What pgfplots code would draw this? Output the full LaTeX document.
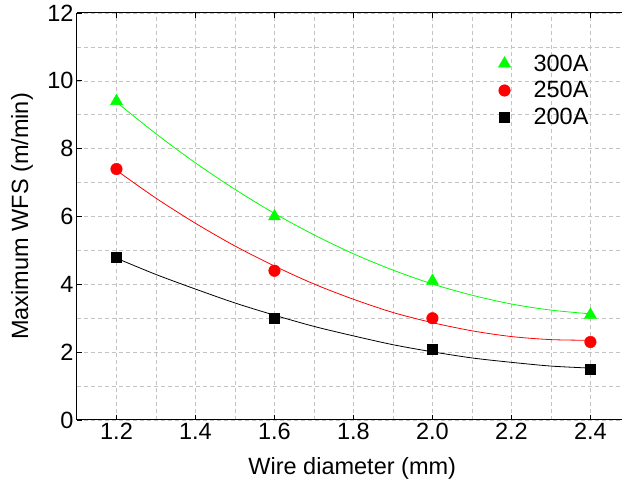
\documentclass[border=0pt]{standalone}
\usepackage{pgfplots}
\pgfplotsset{compat=1.18}
\usepackage{fontspec}
\setmainfont{Liberation Sans}
\definecolor{pgreen}{RGB}{0,255,0}
\definecolor{pred}{RGB}{255,0,0}
\definecolor{gridgray}{RGB}{195,195,195}
\newcommand{\bigfont}{\fontsize{23.5}{28}\selectfont}
\begin{document}
\begin{tikzpicture}
\useasboundingbox (-77pt,-72pt) rectangle (545pt,420pt);
\begin{axis}[
  scale only axis,
  width=545pt, height=407pt,
  xmin=1.1, xmax=2.48, ymin=0, ymax=12,
  axis x line=box, axis y line=left,
  y axis line style={-},
  axis line style={line width=1pt},
  tick align=inside,
  major tick length=5pt,
  minor tick length=0pt,
  tick style={black, line width=0.8pt},
  xtick={1.2,1.4,1.6,1.8,2.0,2.2,2.4},
  ytick={0,2,4,6,8,10,12},
  minor x tick num=1, minor y tick num=1,
  grid=both,
  grid style={gridgray, dashed, line width=0.6pt, dash pattern=on 4pt off 3pt},
  /pgf/number format/assume math mode=true,
  xticklabel style={/pgf/number format/fixed, /pgf/number format/fixed zerofill, /pgf/number format/precision=1},
  yticklabel style={/pgf/number format/fixed},
  every tick label/.append style={font=\bigfont},
  xlabel={Wire diameter (mm)},
  ylabel={Maximum WFS (m/min)},
  label style={font=\bigfont},
  xlabel style={at={(axis description cs:0.505,-0.118)}, anchor=center},
  ylabel style={at={(axis description cs:-0.101,0.5)}, anchor=center},
  legend style={draw=none, fill=none, font=\bigfont, at={(0.948,0.908)}, anchor=north east, row sep=5pt},
  legend cell align=left,
  legend image code/.code={\path[mark repeat=2,mark phase=2,#1] plot coordinates {(0cm,0cm) (0.2cm,0cm) (1.15cm,0cm)};},
]
% data points
\addplot[mark=triangle*, mark size=7pt, color=pgreen, draw=none, mark options={draw=pgreen, fill=pgreen}] coordinates {(1.2,9.4) (1.6,6.0) (2.0,4.1) (2.4,3.1)};
\addlegendentry{300A}
\addplot[mark=*, mark size=5.8pt, color=pred, draw=none, mark options={draw=pred, fill=pred}] coordinates {(1.2,7.4) (1.6,4.4) (2.0,3.0) (2.4,2.3)};
\addlegendentry{250A}
\addplot[mark=square*, mark size=5pt, color=black, draw=none, mark options={draw=black, fill=black}] coordinates {(1.2,4.8) (1.6,3.0) (2.0,2.1) (2.4,1.5)};
\addlegendentry{200A}
% fitted curves
\addplot[pgreen, line width=0.8pt, smooth, forget plot] coordinates {
(1.2,9.37) (1.3,8.44) (1.4,7.58) (1.5,6.80) (1.6,6.09) (1.7,5.46) (1.8,4.90)
(1.9,4.42) (2.0,4.01) (2.1,3.68) (2.2,3.42) (2.3,3.24) (2.4,3.13)};
\addplot[pred, line width=0.8pt, smooth, forget plot] coordinates {
(1.2,7.36) (1.3,6.54) (1.4,5.80) (1.5,5.13) (1.6,4.54) (1.7,4.01) (1.8,3.56)
(1.9,3.17) (2.0,2.87) (2.1,2.63) (2.2,2.46) (2.3,2.37) (2.4,2.35)};
\addplot[black, line width=0.8pt, smooth, forget plot] coordinates {
(1.2,4.77) (1.3,4.29) (1.4,3.86) (1.5,3.45) (1.6,3.09) (1.7,2.76) (1.8,2.48)
(1.9,2.22) (2.0,2.01) (2.1,1.83) (2.2,1.70) (2.3,1.59) (2.4,1.53)};
\end{axis}
\end{tikzpicture}
\end{document}
